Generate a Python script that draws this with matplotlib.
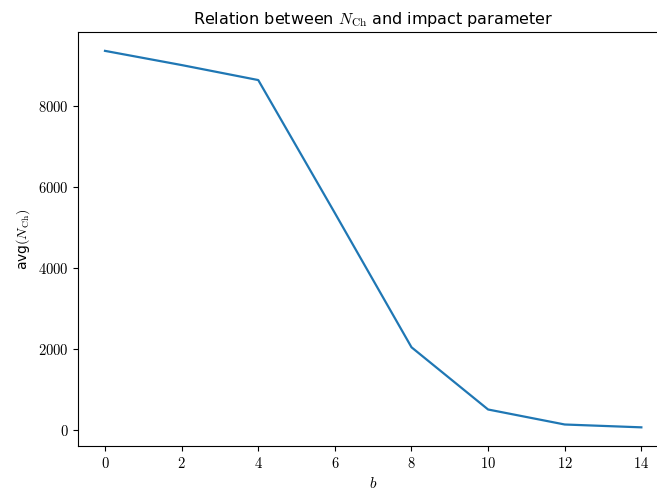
import matplotlib
matplotlib.use("Agg")
import matplotlib.pyplot as plt
from matplotlib.ticker import FuncFormatter

# impact parameter vs average charged multiplicity
b_vals = [0, 2, 4, 6, 8, 10, 12, 14]
avg_nch = [9360, 9010, 8640, 5360, 2050, 515, 145, 75]

plt.rcParams["mathtext.fontset"] = "cm"
plt.rcParams["font.family"] = "DejaVu Sans"

fig, ax = plt.subplots(figsize=(6.57, 4.93), dpi=100)
ax.plot(b_vals, avg_nch, color="#1f77b4", linewidth=1.6)

ax.set_xticks([0, 2, 4, 6, 8, 10, 12, 14])
ax.set_yticks([0, 2000, 4000, 6000, 8000])
ax.xaxis.set_major_formatter(FuncFormatter(lambda v, p: f"${v:.0f}$"))
ax.yaxis.set_major_formatter(FuncFormatter(lambda v, p: f"${v:.0f}$"))
ax.tick_params(labelsize=10.5)

ax.set_xlabel("$b$", fontsize=11)
ax.set_ylabel(r"avg$(N_{\mathrm{Ch}})$", fontsize=10)
ax.set_title(r"Relation between $N_{\mathrm{Ch}}$ and impact parameter", fontsize=11.5)

# original figure was cropped on the right, so the axes run past the edge
plt.subplots_adjust(left=0.119, right=1.017, top=0.935, bottom=0.095)
plt.savefig("out.png")
